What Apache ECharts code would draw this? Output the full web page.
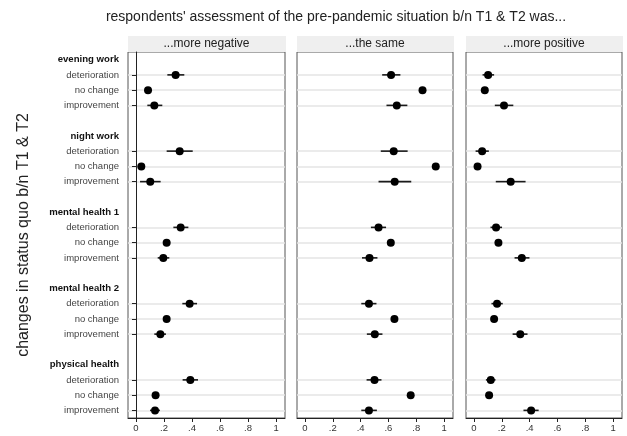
<!DOCTYPE html>
<html><head><meta charset="utf-8">
<script src="https://cdn.jsdelivr.net/npm/echarts@6/dist/echarts.min.js"></script>
<style>html,body{margin:0;padding:0;background:#fff}#c{width:627px;height:436px}</style>
</head><body><div id="c"></div>
<script>
const groups = ['evening work', 'night work', 'mental health 1', 'mental health 2', 'physical health'];
const levels = ['deterioration', 'no change', 'improvement'];
const panels = ['...more negative', '...the same', '...more positive'];
const xTicks = [0, 0.2, 0.4, 0.6, 0.8, 1];
const xTickLabels = ['0', '.2', '.4', '.6', '.8', '1'];
const mainTitle = "respondents' assessment of the pre-pandemic situation b/n T1 & T2 was...";
const yTitle = 'changes in status quo b/n T1 & T2';

// order: group by group, levels deterioration / no change / improvement
const negEst = [0.283, 0.086, 0.131, 0.312, 0.038, 0.102, 0.319, 0.219, 0.195, 0.383, 0.219, 0.174, 0.388, 0.140, 0.136];
const negLo  = [0.224, 0.070, 0.081, 0.219, 0.025, 0.029, 0.267, 0.200, 0.155, 0.331, 0.200, 0.131, 0.333, 0.120, 0.100];
const negHi  = [0.345, 0.102, 0.188, 0.405, 0.051, 0.176, 0.374, 0.238, 0.238, 0.436, 0.238, 0.214, 0.443, 0.160, 0.171];

const sameEst = [0.619, 0.845, 0.660, 0.638, 0.940, 0.645, 0.529, 0.617, 0.464, 0.460, 0.643, 0.502, 0.500, 0.760, 0.460];
const sameLo  = [0.555, 0.825, 0.586, 0.545, 0.925, 0.529, 0.474, 0.595, 0.410, 0.405, 0.620, 0.445, 0.443, 0.740, 0.405];
const sameHi  = [0.686, 0.865, 0.736, 0.738, 0.955, 0.764, 0.583, 0.640, 0.521, 0.514, 0.665, 0.557, 0.550, 0.780, 0.517];

const posEst = [0.102, 0.078, 0.216, 0.059, 0.026, 0.264, 0.159, 0.176, 0.344, 0.166, 0.145, 0.333, 0.121, 0.109, 0.411];
const posLo  = [0.062, 0.062, 0.150, 0.012, 0.013, 0.157, 0.119, 0.158, 0.292, 0.126, 0.128, 0.278, 0.086, 0.092, 0.356];
const posHi  = [0.145, 0.094, 0.283, 0.107, 0.039, 0.371, 0.202, 0.194, 0.399, 0.207, 0.162, 0.385, 0.155, 0.126, 0.465];

const est = [negEst, sameEst, posEst];
const lo = [negLo, sameLo, posLo];
const hi = [negHi, sameHi, posHi];

// rows of the y axis: header, 3 levels, blank
const rows = [];
const itemRows = [];
groups.forEach((g, gi) => {
  rows.push({ t: g, h: true });
  levels.forEach(l => { itemRows.push(rows.length); rows.push({ t: l, h: false }); });
  if (gi < groups.length - 1) rows.push({ t: '', h: false });
});
const labelRows = rows.map((r, i) => i).filter(i => rows[i].t !== '');

const FONT = "'Liberation Sans', Arial, sans-serif";
const gridsPos = [
  { left: 128, width: 157 },
  { left: 297, width: 156 },
  { left: 466, width: 156 }
];
const TOP = 52, BOTTOM = 18;

const grid = [], xAxis = [], yAxis = [], series = [], graphic = [];
gridsPos.forEach((gp, p) => {
  grid.push({ left: gp.left, width: gp.width, top: TOP, bottom: BOTTOM, show: true,
    borderColor: '#555', borderWidth: 1, backgroundColor: 'transparent' });
  xAxis.push({
    type: 'value', gridIndex: p, min: -0.057, max: 1.064,
    axisLine: { show: true, onZero: false, lineStyle: { color: '#222', width: 1 } },
    axisTick: { show: true, length: 4, customValues: xTicks, lineStyle: { color: '#222' } },
    axisLabel: { customValues: xTicks, fontFamily: FONT, fontSize: 9.5, color: '#333', margin: 5,
      formatter: v => xTickLabels[xTicks.findIndex(t => Math.abs(t - v) < 1e-6)] },
    splitLine: { show: false }
  });
  yAxis.push({
    type: 'value', gridIndex: p, inverse: true, min: -0.5, max: rows.length - 0.5,
    name: p === 0 ? yTitle : '', nameLocation: 'middle', nameRotate: 90, nameGap: 96,
    nameTextStyle: { fontFamily: FONT, fontSize: 16, color: '#222' },
    axisLine: { show: p === 0, lineStyle: { color: '#222', width: 1 } },
    axisTick: { show: p === 0, length: 4, customValues: itemRows, lineStyle: { color: '#222' } },
    axisLabel: { show: p === 0, customValues: labelRows, margin: 9, fontFamily: FONT,
      formatter: v => { const r = rows[Math.round(v)]; return r.h ? '{h|' + r.t + '}' : '{n|' + r.t + '}'; },
      rich: {
        h: { fontFamily: FONT, fontSize: 9.6, fontWeight: 'bold', color: '#111' },
        n: { fontFamily: FONT, fontSize: 9.5, color: '#444' }
      } },
    splitLine: { show: true, lineStyle: { color: '#e4e4e4', width: 1.5 } }
  });
  const barData = [], ptData = [];
  est[p].forEach((v, i) => {
    const y = itemRows[i];
    barData.push([lo[p][i], hi[p][i], y]);
    ptData.push([v, y]);
  });
  series.push({
    type: 'custom', xAxisIndex: p, yAxisIndex: p, z: 3, silent: true,
    data: barData,
    renderItem: (params, api) => {
      const a = api.coord([api.value(0), api.value(2)]);
      const b = api.coord([api.value(1), api.value(2)]);
      return { type: 'line', shape: { x1: a[0], y1: a[1], x2: b[0], y2: b[1] },
        style: { stroke: '#1a1a1a', lineWidth: 1.6 } };
    },
    encode: { x: [0, 1], y: 2 }
  });
  series.push({
    type: 'scatter', xAxisIndex: p, yAxisIndex: p, z: 4, silent: true,
    symbol: 'circle', symbolSize: 8, itemStyle: { color: '#000', opacity: 1 },
    data: ptData
  });
  graphic.push({ type: 'rect', shape: { x: gp.left, y: 36, width: gp.width + 1, height: 16 },
    style: { fill: '#efefef' }, silent: true });
  graphic.push({ type: 'text', x: gp.left + gp.width / 2, y: 44,
    style: { text: panels[p], fontFamily: FONT, fontSize: 12, fill: '#222', align: 'center', verticalAlign: 'middle' } });
});
graphic.push({ type: 'text', x: 336, y: 17,
  style: { text: mainTitle, fontFamily: FONT, fontSize: 14, fill: '#222', align: 'center', verticalAlign: 'middle' } });

const chart = echarts.init(document.getElementById('c'), null, { renderer: 'canvas' });
chart.setOption({ animation: false, backgroundColor: '#fff', grid, xAxis, yAxis, series, graphic });
</script></body></html>
